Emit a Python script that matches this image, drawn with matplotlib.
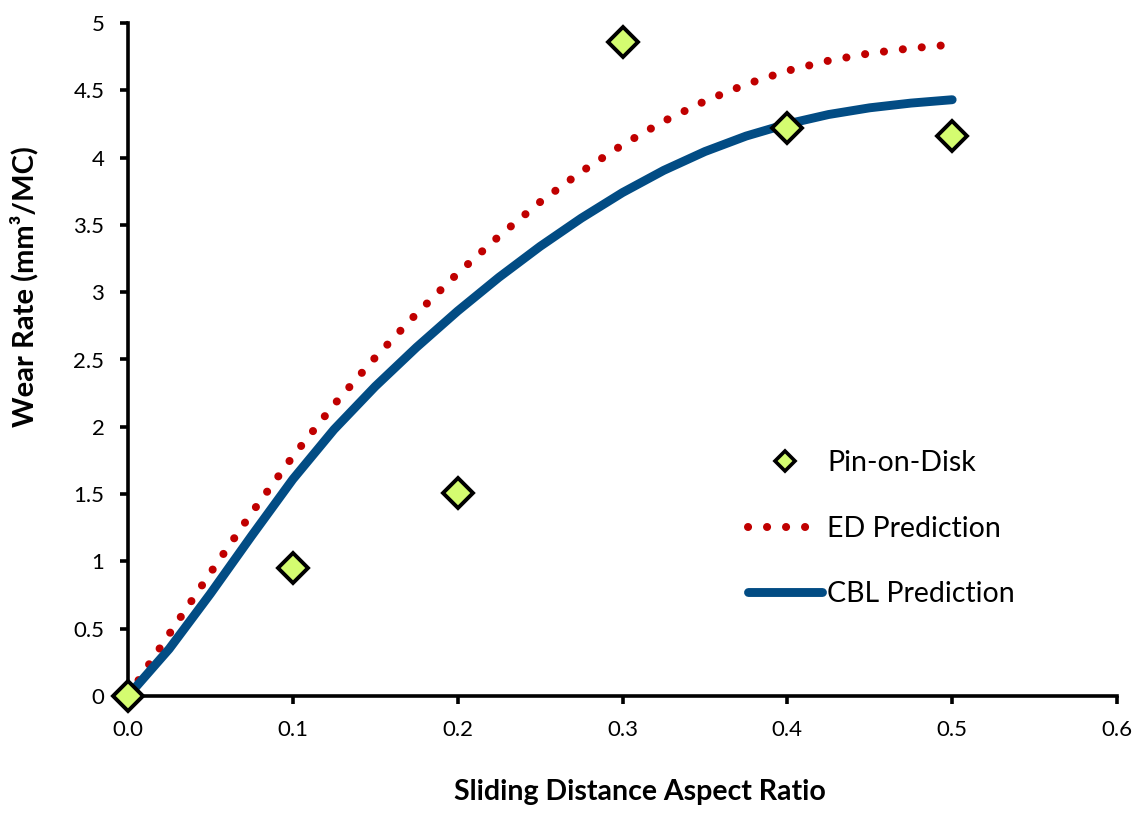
import matplotlib
matplotlib.use("Agg")
import matplotlib.pyplot as plt
from matplotlib.lines import Line2D

plt.rcParams['font.family'] = ['Lato', 'DejaVu Sans']

# Measured wear rates
pin_x = [0.0, 0.1, 0.2, 0.3, 0.4, 0.5]
pin_y = [0.0, 0.95, 1.51, 4.86, 4.22, 4.16]

# Model predictions
pred_x = [0.0, 0.025, 0.05, 0.075, 0.1, 0.125, 0.15, 0.175, 0.2, 0.225, 0.25,
          0.275, 0.3, 0.325, 0.35, 0.375, 0.4, 0.425, 0.45, 0.475, 0.5]
ed_y = [0.0, 0.46, 0.915, 1.36, 1.78, 2.165, 2.515, 2.84, 3.14, 3.415, 3.67,
        3.895, 4.095, 4.27, 4.42, 4.545, 4.645, 4.72, 4.775, 4.812, 4.84]
cbl_y = [0.0, 0.35, 0.76, 1.19, 1.61, 1.98, 2.30, 2.59, 2.86, 3.11, 3.34,
         3.55, 3.74, 3.905, 4.045, 4.16, 4.25, 4.32, 4.37, 4.405, 4.43]

x_ticks = [0.0, 0.1, 0.2, 0.3, 0.4, 0.5, 0.6]
x_ticklabels = ["0.0", "0.1", "0.2", "0.3", "0.4", "0.5", "0.6"]
y_ticks = [0, 0.5, 1, 1.5, 2, 2.5, 3, 3.5, 4, 4.5, 5]
y_ticklabels = ["0", "0.5", "1", "1.5", "2", "2.5", "3", "3.5", "4", "4.5", "5"]

RED = '#c00000'
BLUE = '#024c84'
GREEN = '#d4fc70'

fig = plt.figure(figsize=(11.42, 8.13), dpi=100)
ax = fig.add_axes([128 / 1142, 117 / 813, (1117 - 128) / 1142, (696 - 23) / 813])

lw_dot = 5.8
dot_style = (0, (0.01, 2.35))
ax.plot(pred_x, ed_y, color=RED, lw=lw_dot, linestyle=dot_style,
        dash_capstyle='round', zorder=3)
ax.plot(pred_x, cbl_y, color=BLUE, lw=6.4, solid_capstyle='round',
        solid_joinstyle='round', zorder=4)
ax.plot(pin_x, pin_y, linestyle='none', marker='D', markersize=15.5,
        markerfacecolor=GREEN, markeredgecolor='black', markeredgewidth=2.8,
        clip_on=False, zorder=6)

ax.set_xlim(0, 0.6)
ax.set_ylim(0, 5)
ax.set_xticks(x_ticks)
ax.set_xticklabels(x_ticklabels)
ax.set_yticks(y_ticks)
ax.set_yticklabels(y_ticklabels)

for side in ('top', 'right'):
    ax.spines[side].set_visible(False)
for side in ('left', 'bottom'):
    ax.spines[side].set_linewidth(2.6)
ax.tick_params(axis='both', direction='out', length=6, width=2.6,
               labelsize=16, colors='black')
ax.tick_params(axis='y', pad=11)
ax.tick_params(axis='x', pad=11)

ax.set_xlabel("Sliding Distance Aspect Ratio", fontsize=20.5, fontweight='bold')
ax.xaxis.set_label_coords(0.518, -0.124)
ax.set_ylabel("Wear Rate (mm³/MC)", fontsize=21, fontweight='bold')
ax.yaxis.set_label_coords(-0.091, 0.609)

handles = [
    Line2D([], [], linestyle='none', marker='D', markersize=10.5,
           markerfacecolor=GREEN, markeredgecolor='black', markeredgewidth=2.6),
    Line2D([], [], color=RED, lw=lw_dot, linestyle=dot_style,
           dash_capstyle='round'),
    Line2D([], [], color=BLUE, lw=6.4, solid_capstyle='round'),
]
labels = ["Pin-on-Disk", "ED Prediction", "CBL Prediction"]
fig.legend(handles, labels, loc='upper left', bbox_to_anchor=(748 / 1142, 1 - 450 / 813),
           frameon=False, fontsize=20.5, handlelength=2.6, handletextpad=0.18,
           labelspacing=1.39, borderpad=0, borderaxespad=0)

fig.savefig("out.png", dpi=100)
